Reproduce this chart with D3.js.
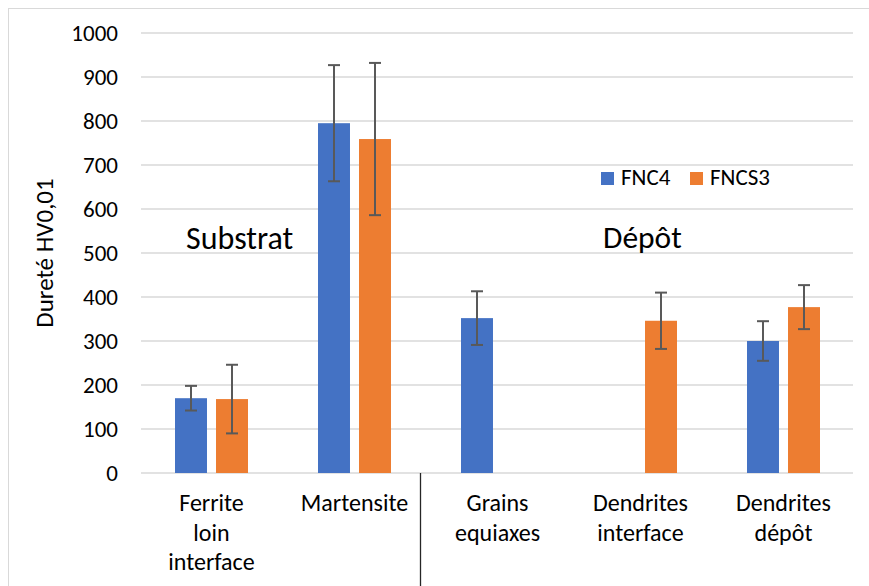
<!DOCTYPE html>
<html>
<head>
<meta charset="utf-8">
<script src="https://cdn.jsdelivr.net/npm/d3@7"></script>
<style>
  body { margin: 0; background: #fff; }
  svg { display: block; font-family: Carlito, Calibri, Lato, sans-serif; }
</style>
</head>
<body>
<svg width="869" height="586"></svg>
<script>
// categories (line breaks as in the picture)
const categories = ["Ferrite\nloin\ninterface", "Martensite", "Grains\nequiaxes", "Dendrites\ninterface", "Dendrites\ndépôt"];
const seriesNames = ["FNC4", "FNCS3"];
const seriesColors = ["#4472C4", "#ED7D31"];
const fnc4 = [170, 795, 352, null, 300];
const fnc4Err = [28, 132, 61, null, 45];
const fncs3 = [168, 759, null, 346, 377];
const fncs3Err = [78, 173, null, 64, 50];
const yTicks = [0, 100, 200, 300, 400, 500, 600, 700, 800, 900, 1000];

const svg = d3.select("svg");

// cadre
svg.append("rect")
    .attr("x", 8.5).attr("y", 8.5)
    .attr("width", 880).attr("height", 600)
    .attr("fill", "none").attr("stroke", "#d9d9d9");

const x0 = d3.scaleBand().domain(categories).range([140, 855]);
const x1 = d3.scaleBand().domain(seriesNames).range([35, 108]).paddingInner(0.22);
const y = d3.scaleLinear().domain([0, 1000]).range([473, 33]);

// grille
svg.append("g").selectAll("line")
    .data(yTicks)
    .enter().append("line")
    .attr("x1", 141).attr("x2", 853)
    .attr("y1", d => y(d)).attr("y2", d => y(d))
    .attr("stroke", "#d9d9d9").attr("stroke-width", 1.5);

// axe Y (étiquettes seulement)
const yAxis = svg.append("g")
    .attr("transform", "translate(118,0)")
    .call(d3.axisLeft(y).tickValues(yTicks).tickFormat(d3.format("d")).tickSize(0).tickPadding(0));
yAxis.select(".domain").remove();
yAxis.selectAll("text")
    .attr("font-size", 23).attr("fill", "#000")
    .style("font-family", "Carlito, Calibri, Lato, sans-serif");

svg.append("text")
    .attr("transform", "translate(53,253) rotate(-90)")
    .attr("text-anchor", "middle")
    .attr("font-size", 25)
    .text("Dureté HV0,01");

// barres
const rows = categories.map((c, i) => ({
    cat: c,
    vals: [
        { s: seriesNames[0], v: fnc4[i], e: fnc4Err[i] },
        { s: seriesNames[1], v: fncs3[i], e: fncs3Err[i] }
    ].filter(d => d.v != null)
}));

const groups = svg.append("g").selectAll("g")
    .data(rows)
    .enter().append("g")
    .attr("transform", d => `translate(${x0(d.cat)},0)`);

groups.selectAll("rect")
    .data(d => d.vals)
    .enter().append("rect")
    .attr("x", d => x1(d.s))
    .attr("width", x1.bandwidth())
    .attr("y", d => y(d.v))
    .attr("height", d => y(0) - y(d.v))
    .attr("fill", d => seriesColors[seriesNames.indexOf(d.s)]);

// barres d'erreur
const err = groups.selectAll("g.err")
    .data(d => d.vals)
    .enter().append("g")
    .attr("class", "err")
    .attr("stroke", "#595959")
    .attr("stroke-width", 2);
err.append("line")
    .attr("x1", d => x1(d.s) + x1.bandwidth() / 2)
    .attr("x2", d => x1(d.s) + x1.bandwidth() / 2)
    .attr("y1", d => y(d.v + d.e))
    .attr("y2", d => y(d.v - d.e));
[1, -1].forEach(k => {
    err.append("line")
        .attr("x1", d => x1(d.s) + x1.bandwidth() / 2 - 6)
        .attr("x2", d => x1(d.s) + x1.bandwidth() / 2 + 6)
        .attr("y1", d => y(d.v + k * d.e))
        .attr("y2", d => y(d.v + k * d.e));
});

// étiquettes de catégories
const catText = svg.append("g").selectAll("text")
    .data(categories)
    .enter().append("text")
    .attr("text-anchor", "middle")
    .attr("font-size", 24)
    .attr("x", d => x0(d) + x0.bandwidth() / 2)
    .attr("y", 511);
catText.selectAll("tspan")
    .data(d => d.split("\n"))
    .enter().append("tspan")
    .attr("x", function() { return this.parentNode.getAttribute("x"); })
    .attr("dy", (d, i) => i === 0 ? 0 : 29.5)
    .text(d => d);

// séparateur
svg.append("line")
    .attr("x1", 420.5).attr("x2", 420.5)
    .attr("y1", 473).attr("y2", 586)
    .attr("stroke", "#262626").attr("stroke-width", 1.3);

// annotations
svg.append("text").attr("x", 186).attr("y", 249).attr("font-size", 32).text("Substrat");
svg.append("text").attr("x", 603).attr("y", 248).attr("font-size", 31.5).text("Dépôt");

// légende
const legendX = [601, 690];
const legend = svg.append("g").selectAll("g")
    .data(seriesNames)
    .enter().append("g")
    .attr("transform", (d, i) => `translate(${legendX[i]},172)`);
legend.append("rect")
    .attr("width", 13).attr("height", 13)
    .attr("fill", (d, i) => seriesColors[i]);
legend.append("text")
    .attr("x", 20).attr("y", 13)
    .attr("font-size", 23)
    .text(d => d);
</script>
</body>
</html>
